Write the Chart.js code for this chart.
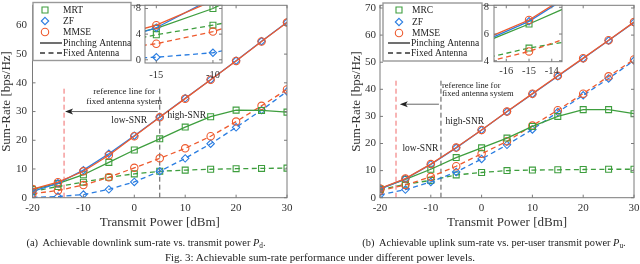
<!DOCTYPE html>
<html><head><meta charset="utf-8">
<script src="https://cdn.jsdelivr.net/npm/chart.js@4.4.0/dist/chart.umd.min.js"></script>
<style>
html,body{margin:0;padding:0;background:#fff;}
#wrap{position:relative;width:640px;height:264px;overflow:hidden;font-family:"Liberation Serif","Times New Roman",serif;color:#222;}
canvas{position:absolute;}
.cap{position:absolute;white-space:nowrap;transform:translateX(-50%);}
.cap sub{font-size:70%;vertical-align:-2px;line-height:0;}
</style></head>
<body><div id="wrap">
<canvas id="cA" width="640" height="232" style="left:0;top:0"></canvas>
<canvas id="cB" width="640" height="232" style="left:0;top:0"></canvas>
<canvas id="iA" width="110" height="88" style="left:118px;top:0"></canvas>
<canvas id="iB" width="106" height="84" style="left:462px;top:0"></canvas>
<div class="cap" style="left:146px;top:237px;font-size:10.4px;line-height:12px">(a)&nbsp; Achievable downlink sum-rate vs. transmit power <i>P</i><sub>d</sub>.</div>
<div class="cap" style="left:494px;top:237px;font-size:10.4px;line-height:12px">(b)&nbsp; Achievable uplink sum-rate vs. per-user transmit power <i>P</i><sub>u</sub>.</div>
<div class="cap" style="left:320px;top:251px;font-size:11px;line-height:13px">Fig. 3: Achievable sum-rate performance under different power levels.</div>
</div>
<script>
/* ---- data ---- */
const power = [-20,-15,-10,-5,0,5,10,15,20,25,30];
// (a) downlink
const dlMrtPin  = [2.9,4.9,8.0,12.3,16.6,20.5,24.6,28.2,30.5,30.4,29.8];
const dlZfPin   = [2.2,5.0,9.6,15.3,21.6,28.1,34.6,41.1,47.7,54.5,61.1];
const dlMmsePin = [3.0,5.4,9.2,14.8,21.4,28.0,34.5,41.1,47.6,54.4,61.0];
const dlMrtFix  = [2.2,3.9,5.4,7.1,8.3,9.2,9.6,9.9,10.1,10.2,10.3];
const dlZfFix   = [0.1,0.4,1.1,2.9,5.5,9.2,13.7,18.8,24.5,30.5,37.0];
const dlMmseFix = [1.4,2.5,4.4,7.1,10.4,13.7,17.2,21.4,26.5,32.0,37.7];
// (b) uplink
const ulMrcPin  = [3.3,6.75,10.5,14.8,18.4,22.0,26.3,30.0,32.5,32.5,31.0];
const ulZfPin   = [3.2,6.95,12.3,18.4,25.0,31.7,38.3,44.8,51.4,58.0,64.7];
const ulMmsePin = [3.4,7.05,12.4,18.5,25.0,31.8,38.4,45.0,51.5,58.1,64.8];
const ulMrcFix  = [3.0,4.95,6.4,8.4,9.3,10.0,10.2,10.3,10.4,10.5,10.5];
const ulZfFix   = [1.0,3.0,5.8,9.5,14.3,19.5,25.2,31.6,37.8,44.0,50.6];
const ulMmseFix = [2.6,4.7,7.7,11.6,16.2,20.8,26.6,32.3,38.4,44.8,51.0];
// reference lines (x position, top)
const dlRefX = [-13.8, 5], dlRefTop = 38;
const ulRefX = [-16.85, -8], ulRefTop = 44;
const dlNames = ['MRT','ZF','MMSE'];
const ulNames = ['MRC','ZF','MMSE'];
const typeNames = ['Pinching Antenna','Fixed Antenna'];
const xTitle = 'Transmit Power [dBm]', yTitle = 'Sum-Rate [bps/Hz]';

const FONT = "'Liberation Serif','Times New Roman',serif";
const GREEN='#3e9e3e', BLUE='#2a7de1', RED='#ee5a2e', REFRED='#f06a6a', GRAY='#555';
const STYLE = {rect:GREEN, rectRot:BLUE, circle:RED};

function series(vals, color, style, dashed, order){
  return {data: power.map((p,i)=>({x:p,y:vals[i]})), borderColor:color, backgroundColor:'transparent',
    borderWidth:1.3, borderDash: dashed?[5,3.5]:[], pointStyle:style, pointRadius: style==='rect'?4.2:3.7,
    pointBorderWidth:1.1, pointBorderColor:color, pointBackgroundColor:'rgba(0,0,0,0)', tension:0, order};
}
function refLine(x, top, color){
  return {data:[{x,y:0},{x,y:top}], borderColor:color, borderWidth:1, borderDash:[5,3], pointRadius:0, order:20};
}
function dlSets(withRef){
  const s = [series(dlMmsePin,RED,'circle',false,1), series(dlZfPin,BLUE,'rectRot',false,2), series(dlMrtPin,GREEN,'rect',false,3),
    series(dlMmseFix,RED,'circle',true,4), series(dlZfFix,BLUE,'rectRot',true,5), series(dlMrtFix,GREEN,'rect',true,6)];
  if(withRef) s.push(refLine(dlRefX[0],dlRefTop,REFRED), refLine(dlRefX[1],dlRefTop,GRAY));
  return s;
}
function ulSets(withRef){
  const s = [series(ulMmsePin,RED,'circle',false,1), series(ulZfPin,BLUE,'rectRot',false,2), series(ulMrcPin,GREEN,'rect',false,3),
    series(ulMmseFix,RED,'circle',true,4), series(ulZfFix,BLUE,'rectRot',true,5), series(ulMrcFix,GREEN,'rect',true,6)];
  if(withRef) s.push(refLine(ulRefX[0],ulRefTop,REFRED), refLine(ulRefX[1],ulRefTop,GRAY));
  return s;
}

function marker(c, style, x, y){
  const col = STYLE[style];
  c.save(); c.strokeStyle=col; c.lineWidth=1.1; c.setLineDash([]); c.beginPath();
  if(style==='rect') c.rect(x-3,y-3,6,6);
  else if(style==='rectRot'){ c.moveTo(x,y-3.7); c.lineTo(x+3.7,y); c.lineTo(x,y+3.7); c.lineTo(x-3.7,y); c.closePath(); }
  else c.arc(x,y,3.7,0,Math.PI*2);
  c.stroke(); c.restore();
}

const deco = {
  id:'deco',
  beforeDatasetsDraw(chart, args, o){
    if(!o.fill) return;
    const a=chart.chartArea, c=chart.ctx;
    c.save(); c.fillStyle='#fff'; c.fillRect(a.left,a.top,a.right-a.left,a.bottom-a.top); c.restore();
  },
  afterDatasetsDraw(chart, args, o){
    const c=chart.ctx, xs=chart.scales.x, ys=chart.scales.y;
    (o.texts||[]).forEach(t=>{
      c.save(); c.fillStyle='#222'; c.font=t.size+'px '+FONT; c.textAlign=t.align||'center'; c.textBaseline='middle';
      c.fillText(t.t, xs.getPixelForValue(t.x), ys.getPixelForValue(t.y)); c.restore();
    });
    if(o.arrow){
      const [x1,x2,yv]=o.arrow, p1=xs.getPixelForValue(x1), p2=xs.getPixelForValue(x2), py=ys.getPixelForValue(yv);
      c.save(); c.strokeStyle='#666'; c.lineWidth=1; c.beginPath(); c.moveTo(p1,py); c.lineTo(p2+6,py); c.stroke();
      c.fillStyle='#222'; c.beginPath(); c.moveTo(p2,py); c.lineTo(p2+8,py-3); c.lineTo(p2+6,py); c.lineTo(p2+8,py+3); c.closePath(); c.fill(); c.restore();
    }
  },
  afterDraw(chart, args, o){
    const c=chart.ctx, a=chart.chartArea, xs=chart.scales.x, ys=chart.scales.y;
    c.save(); c.strokeStyle='#7a7a7a'; c.lineWidth=1; c.setLineDash([]);
    c.strokeRect(a.left,a.top,a.right-a.left,a.bottom-a.top);
    c.beginPath();
    xs.ticks.forEach(t=>{ const p=xs.getPixelForValue(t.value); c.moveTo(p,a.bottom); c.lineTo(p,a.bottom-3); c.moveTo(p,a.top); c.lineTo(p,a.top+3); });
    ys.ticks.forEach(t=>{ const p=ys.getPixelForValue(t.value); c.moveTo(a.left,p); c.lineTo(a.left+3,p); c.moveTo(a.right,p); c.lineTo(a.right-3,p); });
    c.stroke(); c.restore();
    const L=o.legend; if(!L) return;
    c.save();
    c.fillStyle='#fff'; c.fillRect(L.box[0],L.box[1],L.box[2]-L.box[0],L.box[3]-L.box[1]);
    c.strokeStyle='#999'; c.lineWidth=1.4; c.strokeRect(L.box[0],L.box[1],L.box[2]-L.box[0],L.box[3]-L.box[1]);
    c.font='9.5px '+FONT; c.fillStyle='#222'; c.textBaseline='middle'; c.textAlign='left';
    ['rect','rectRot','circle'].forEach((s,i)=>{ marker(c,s,L.mx,L.rows[i]); c.fillText(L.names[i],L.tx,L.rows[i]); });
    typeNames.forEach((n,i)=>{
      const y=L.rows[3+i];
      c.strokeStyle='#333'; c.lineWidth=1.4; c.setLineDash(i?[5,3.5]:[]);
      c.beginPath(); c.moveTo(L.lx[0],y); c.lineTo(L.lx[1],y); c.stroke();
      c.fillText(n,L.lx[1]+1,y);
    });
    c.restore();
  }
};

function scales(o){
  return {
    x:{type:'linear', min:o.xmin, max:o.xmax,
       ticks:{stepSize:o.xstep, color:'#333', font:{family:FONT,size:o.tsize}, padding:o.xpad, maxRotation:0, includeBounds:false},
       grid:{display:false, drawTicks:false}, border:{display:false},
       title:{display:!!o.title, text:xTitle, color:'#333', font:{family:FONT,size:13,lineHeight:1}, padding:{top:0,bottom:3}},
       afterFit:s=>{s.height=o.xh; s.paddingLeft=0; s.paddingRight=0;}},
    y:{type:'linear', min:o.ymin, max:o.ymax,
       ticks:{stepSize:o.ystep, color:'#333', font:{family:FONT,size:o.tsize}, padding:o.ypad, includeBounds:false},
       grid:{display:false, drawTicks:false}, border:{display:false},
       title:{display:!!o.title, text:yTitle, color:'#333', font:{family:FONT,size:13,lineHeight:1}, padding:{top:0,bottom:0}},
       afterFit:s=>{s.width=o.yw; s.paddingTop=0; s.paddingBottom=0;}}
  };
}
function make(id, datasets, pad, sc, deco_opts){
  return new Chart(document.getElementById(id), {
    type:'line', data:{datasets},
    options:{responsive:false, animation:false, layout:{padding:pad},
      plugins:{legend:{display:false}, tooltip:{enabled:false}, deco:deco_opts},
      scales:scales(sc)},
    plugins:[deco]
  });
}

make('cA', dlSets(true), {left:0,right:353,top:2,bottom:0},
  {xmin:-20,xmax:30,xstep:10,ymin:0,ymax:67,ystep:10,tsize:11,xpad:4,ypad:5.5,xh:34.3,yw:32.5,title:true},
  {texts:[{t:'reference line for',x:-2.0,y:36.8,size:9},{t:'fixed antenna system',x:-2.0,y:33.3,size:9},
          {t:'low-SNR',x:-1.0,y:27.0,size:9.5},{t:'high-SNR',x:10.3,y:28.5,size:9.5}],
   arrow:[4.6,-13.6,30],
   legend:{box:[33,2.5,131,60.5],mx:45,tx:63,lx:[40,62],rows:[10,21,32,43,53],names:dlNames}});

make('cB', ulSets(true), {left:350,right:6,top:2,bottom:0},
  {xmin:-20,xmax:30,xstep:10,ymin:0,ymax:71,ystep:10,tsize:11,xpad:4,ypad:4,xh:34.3,yw:30,title:true},
  {texts:[{t:'reference line for',x:-7.8,y:41.3,size:8.5,align:'left'},{t:'fixed antenna system',x:-7.8,y:38.3,size:8.5,align:'left'},
          {t:'high-SNR',x:-3.3,y:28.3,size:9.5},{t:'low-SNR',x:-12.05,y:18.2,size:9.5}],
   arrow:[-8.4,-16.1,34.5],
   legend:{box:[383,3,482,61],mx:399,tx:412,lx:[388,410],rows:[10,22,33,43,53],names:ulNames}});

make('iA', dlSets(false), {left:0,right:6,top:5,bottom:0},
  {xmin:-16,xmax:-9.2,xstep:5,ymin:-0.5,ymax:8.5,ystep:2,tsize:10.5,xpad:6,ypad:4,xh:25,yw:27},
  {fill:true});

make('iB', ulSets(false), {left:0,right:6,top:4,bottom:0},
  {xmin:-16.54,xmax:-13.55,xstep:1,ymin:3.93,ymax:8.15,ystep:2,tsize:10.5,xpad:3,ypad:5,xh:22.3,yw:32},
  {fill:true});
</script>
</body></html>
